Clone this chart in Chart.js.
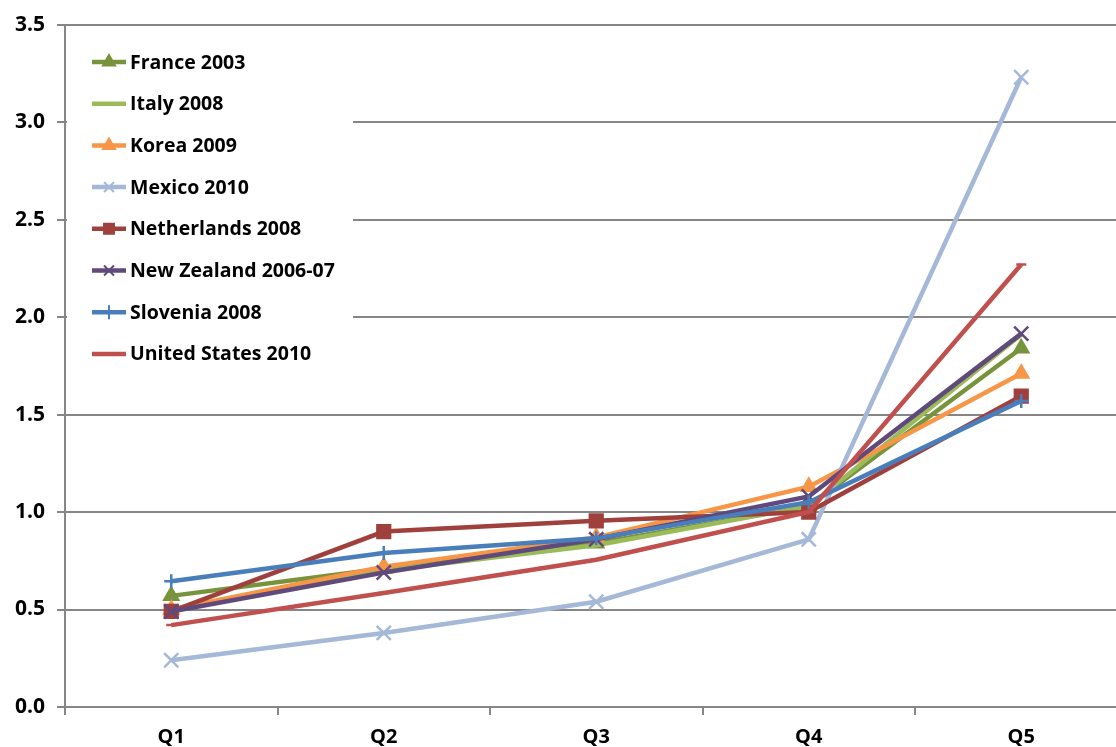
<!DOCTYPE html>
<html>
<head>
<meta charset="utf-8">
<script src="https://cdn.jsdelivr.net/npm/chart.js@4.4.1/dist/chart.umd.min.js"></script>
<style>
  html, body { margin: 0; padding: 0; background: #ffffff; overflow: hidden; }
  #chart { display: block; }
</style>
</head>
<body>
<canvas id="chart" width="1140" height="747"></canvas>
<script>
// Income quintiles on the category axis
const quintiles = ['Q1', 'Q2', 'Q3', 'Q4', 'Q5'];

// Ratio per quintile, one array per country/year
const france2003      = [0.57, 0.71, 0.84, 1.03, 1.84];
const italy2008       = [0.50, 0.70, 0.83, 1.03, 1.91];
const korea2009       = [0.50, 0.72, 0.87, 1.13, 1.71];
const mexico2010      = [0.24, 0.38, 0.54, 0.86, 3.23];
const netherlands2008 = [0.49, 0.90, 0.955, 1.00, 1.595];
const newZealand0607  = [0.49, 0.69, 0.86, 1.08, 1.915];
const slovenia2008    = [0.645, 0.79, 0.865, 1.05, 1.57];
const unitedStates2010 = [0.42, 0.585, 0.755, 1.00, 2.27];

// Value axis ticks
const yTicks = [0, 0.5, 1.0, 1.5, 2.0, 2.5, 3.0, 3.5];

const seriesDefs = [
  { label: 'France 2003',         data: france2003,       color: '#77933C', style: 'triangle', r: 8 },
  { label: 'Italy 2008',          data: italy2008,        color: '#9BBB59', style: 'line',     r: 0 },
  { label: 'Korea 2009',          data: korea2009,        color: '#F79646', style: 'triangle', r: 8 },
  { label: 'Mexico 2010',         data: mexico2010,       color: '#A5B8D7', style: 'crossRot', r: 10 },
  { label: 'Netherlands 2008',    data: netherlands2008,  color: '#A0403C', style: 'rect',     r: 9 },
  { label: 'New Zealand 2006-07', data: newZealand0607,   color: '#604A7B', style: 'crossRot', r: 10 },
  { label: 'Slovenia 2008',       data: slovenia2008,     color: '#4A7EBB', style: 'cross',    r: 7 },
  { label: 'United States 2010',  data: unitedStates2010, color: '#C0504D', style: 'line',     r: 5 }
];

const datasets = seriesDefs.map((s, i) => ({
  label: s.label,
  data: s.data,
  borderColor: s.color,
  backgroundColor: s.color,
  borderWidth: 4.5,
  pointStyle: s.style,
  pointRadius: s.r,
  pointBorderWidth: 2.5,
  pointBorderColor: s.color,
  pointBackgroundColor: s.color,
  tension: 0,
  fill: false,
  order: seriesDefs.length - i
}));

const FONT = '"Open Sans", Lato, "DejaVu Sans", sans-serif';

// Legend drawn inside the plot area, on a white panel
const innerLegend = {
  id: 'innerLegend',
  afterDraw(chart) {
    const ctx = chart.ctx;
    const left = chart.chartArea.left;
    ctx.save();
    ctx.fillStyle = '#ffffff';
    ctx.fillRect(left + 2, 26, 286, 354);
    const x0 = 92, x1 = 126, textX = 130, top = 62, step = 41.7;
    seriesDefs.forEach((s, i) => {
      const y = top + i * step;
      ctx.strokeStyle = s.color;
      ctx.lineWidth = 4.5;
      ctx.lineCap = 'butt';
      ctx.beginPath();
      ctx.moveTo(x0, y);
      ctx.lineTo(x1, y);
      ctx.stroke();
      if (s.r > 0 && s.style !== 'line') {
        ctx.fillStyle = s.color;
        ctx.strokeStyle = s.color;
        ctx.lineWidth = 2;
        Chart.helpers.drawPoint(ctx, { pointStyle: s.style, radius: 7, borderWidth: 2, rotation: 0 }, (x0 + x1) / 2, y);
      }
      ctx.fillStyle = '#000000';
      ctx.font = 'bold 19.5px ' + FONT;
      ctx.textAlign = 'left';
      ctx.textBaseline = 'middle';
      ctx.fillText(s.label, textX, y + 1);
    });
    ctx.restore();
  }
};

new Chart(document.getElementById('chart'), {
  type: 'line',
  data: { labels: quintiles, datasets },
  options: {
    responsive: false,
    animation: false,
    layout: { padding: { top: 22, right: 0, left: 0, bottom: 0 } },
    plugins: { legend: { display: false }, tooltip: { enabled: false } },
    scales: {
      x: {
        offset: true,
        grid: {
          offset: true,
          drawOnChartArea: false,
          drawTicks: true,
          tickLength: 8,
          color: '#868686',
          lineWidth: 2
        },
        border: { color: '#868686', width: 2 },
        ticks: {
          color: '#000000',
          padding: 10,
          font: { family: FONT, size: 20, weight: 'bold' }
        },
        afterFit(scale) {
          scale.height = 40;
          scale.paddingLeft = 0;
          scale.paddingRight = 0;
        }
      },
      y: {
        min: 0,
        max: 3.5,
        afterBuildTicks(scale) { scale.ticks = yTicks.map(v => ({ value: v })); },
        grid: {
          color: '#868686',
          lineWidth: 2,
          tickLength: 8,
          drawTicks: true
        },
        border: { color: '#868686', width: 2 },
        ticks: {
          color: '#000000',
          padding: 12,
          font: { family: FONT, size: 21, weight: 'bold' },
          callback: v => Number(v).toFixed(1)
        },
        afterFit(scale) { scale.width = 65; }
      }
    }
  },
  plugins: [innerLegend]
});
</script>
</body>
</html>
